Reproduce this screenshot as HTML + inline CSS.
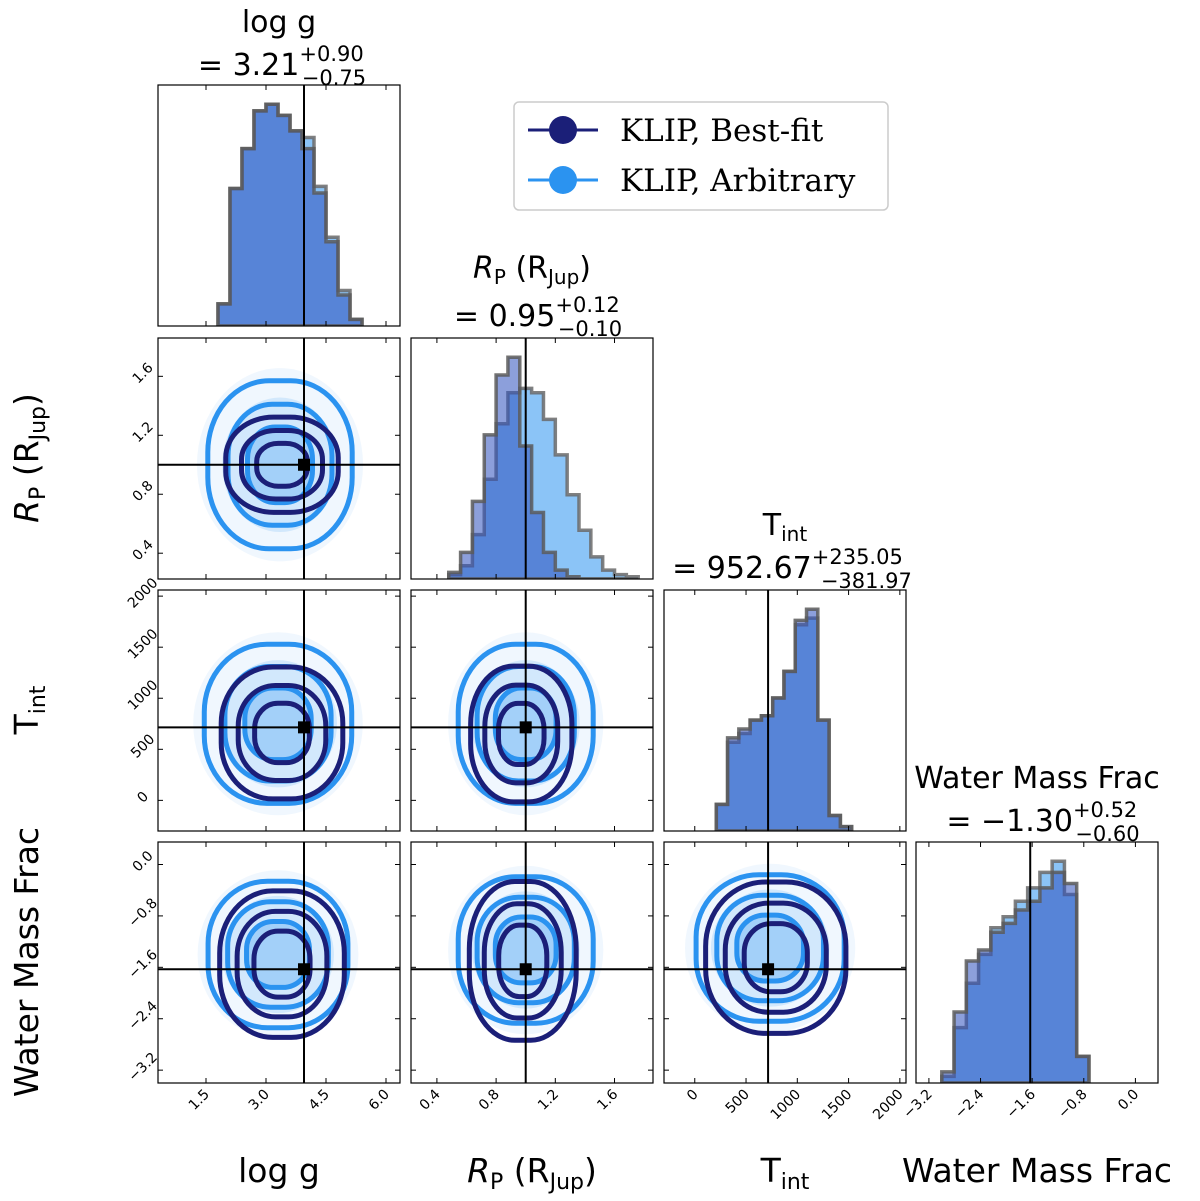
<!DOCTYPE html>
<html><head><meta charset="utf-8">
<style>
body{margin:0;background:#fff;}
svg{display:block;font-family:"DejaVu Sans","Liberation Sans",sans-serif;}
</style></head>
<body>
<svg id="c" width="1200" height="1201" viewBox="0 0 1200 1201" xmlns="http://www.w3.org/2000/svg"></svg>
<script>
// ---- data ----
const paramNames=["log g","Rp","Tint","Water Mass Frac"];
const ranges=[[0.3,6.35],[0.225,1.86],[-300,2060],[-3.4,0.35]];
const truths=[3.95,1.0,715,-1.63];
const ticks=[[1.5,3.0,4.5,6.0],[0.4,0.8,1.2,1.6],[0,500,1000,1500,2000],[-3.2,-2.4,-1.6,-0.8,0.0]];
const tickLabels=[["1.5","3.0","4.5","6.0"],["0.4","0.8","1.2","1.6"],["0","500","1000","1500","2000"],["\u22123.2","\u22122.4","\u22121.6","\u22120.8","0.0"]];
// histogram bins: start, width, heights (relative)
const histStart=[1.8,0.48,210,-3.0];
const histWidth=[0.3,0.08,110,0.19];
const histBest=[[0.1,0.62,0.8,0.97,1.0,0.95,0.88,0.8,0.6,0.38,0.14,0.03],
 [0.03,0.12,0.35,0.65,0.92,1.0,0.6,0.3,0.12,0.04,0.01,0.0,0.0,0.0,0.0,0.0],
 [0.12,0.42,0.46,0.5,0.52,0.6,0.72,0.95,1.0,0.5,0.07,0.02],
 [0.05,0.32,0.55,0.6,0.68,0.72,0.78,0.82,0.88,0.95,0.9,0.12]];
const histArb=[[0.1,0.62,0.8,0.97,1.0,0.95,0.88,0.85,0.63,0.4,0.16,0.03],
 [0.02,0.06,0.2,0.45,0.7,0.84,0.86,0.84,0.72,0.56,0.38,0.22,0.1,0.04,0.02,0.01],
 [0.12,0.4,0.44,0.5,0.52,0.6,0.72,0.93,0.96,0.5,0.07,0.02],
 [0.03,0.25,0.45,0.58,0.7,0.75,0.82,0.88,0.95,1.0,0.85,0.12]];
// contours: [i(x), j(y), cx, cy, sx, sy] for best-fit and arbitrary
const contBest=[[0,1,3.4,1.0,0.74,0.17],[0,2,3.4,660,0.8,340],[1,2,0.97,650,0.18,350],
 [0,3,3.4,-1.55,0.82,0.6],[1,3,0.98,-1.5,0.19,0.65],[2,3,790,-1.45,360,0.62]];
const contArb=[[0,1,3.35,1.0,0.95,0.3],[0,2,3.3,750,0.97,410],[1,2,1.0,750,0.24,410],
 [0,3,3.3,-1.4,0.92,0.6],[1,3,1.0,-1.33,0.24,0.6],[2,3,735,-1.3,380,0.6]];
const levels=[0.45,0.72,1.0];
// ---- layout ----
const colX=[158,411,664,916], rowY=[85,338,590,842], W=242, H=241;
const NS="http://www.w3.org/2000/svg", svg=document.getElementById('c');
function el(t,a,p){const e=document.createElementNS(NS,t);for(const k in a)e.setAttribute(k,a[k]);(p||svg).appendChild(e);return e;}
function sx(i,v){const r=ranges[i];return colX[i]+(v-r[0])/(r[1]-r[0])*W;}
function sy(j,v){const r=ranges[j];return rowY[j]+H-(v-r[0])/(r[1]-r[0])*H;}
const DARK="#1b1f78", LIGHT="#2b93f0";
for(let i=0;i<4;i++){
 for(let j=i;j<4;j++){
  const g=el('g',{});
  
  
  const x0=colX[i],y0=rowY[j];
  const cp='cp'+i+j;
  const cl=el('clipPath',{id:cp},g);el('rect',{x:x0,y:y0,width:W,height:H},cl);
  const inner=el('g',{'clip-path':'url(#'+cp+')'},g);
  if(i==j){
   const base=y0+H, hmax=H*0.92;
   [[histArb[i],'rgba(43,147,240,0.55)','#6a6a6a'],[histBest[i],'rgba(45,80,190,0.55)','#5a5a5a']].forEach(([hs,fill,st],s)=>{
    let d='M'+sx(i,histStart[i])+','+base;
    hs.forEach((h,k)=>{const xa=sx(i,histStart[i]+k*histWidth[i]),xb=sx(i,histStart[i]+(k+1)*histWidth[i]);const y=base-h*hmax;d+=' L'+xa+','+y+' L'+xb+','+y;});
    d+=' L'+sx(i,histStart[i]+hs.length*histWidth[i])+','+base+' Z';
    const p=el('path',{d:d,fill:fill,stroke:st,'stroke-width':3.5,'stroke-opacity':0.85},inner);
    
    
   });
   el('line',{x1:sx(i,truths[i]),x2:sx(i,truths[i]),y1:y0,y2:y0+H,stroke:'#000','stroke-width':2},inner);
  } else {
   [contArb,contBest].forEach((cs,s)=>{
    const c=cs.find(q=>q[0]==i&&q[1]==j);
    const cx=sx(i,c[2]),cy=sy(j,c[3]);
    const rx=1.9*Math.abs(sx(i,c[2]+c[4])-cx), ry=1.9*Math.abs(sy(j,c[3]+c[5])-cy);
    if(s==0){
     el('ellipse',{cx:cx,cy:cy,rx:rx*1.15,ry:ry*1.15,fill:'rgba(43,147,240,0.07)'},inner);
     el('ellipse',{cx:cx,cy:cy,rx:rx*0.8,ry:ry*0.8,fill:'rgba(43,147,240,0.15)'},inner);
     el('ellipse',{cx:cx,cy:cy,rx:rx*0.45,ry:ry*0.45,fill:'rgba(43,147,240,0.28)'},inner);
    }
    levels.forEach(l=>{
     const e=el('rect',{x:cx-rx*l,y:cy-ry*l,width:2*rx*l,height:2*ry*l,rx:rx*l*0.85,ry:ry*l*0.85,fill:'none',stroke:s?DARK:LIGHT,'stroke-width':5},inner);
     
     
    });
   });
   const tx=sx(i,truths[i]),ty=sy(j,truths[j]);
   el('line',{x1:tx,x2:tx,y1:y0,y2:y0+H,stroke:'#000','stroke-width':2},inner);
   el('line',{x1:x0,x2:x0+W,y1:ty,y2:ty,stroke:'#000','stroke-width':2},inner);
   el('rect',{x:tx-6,y:ty-6,width:12,height:12,fill:'#000'},inner);
  }
  el('rect',{x:x0,y:y0,width:W,height:H,fill:'none',stroke:'#000','stroke-width':1.2},g);
  ticks[i].forEach(t=>{const x=sx(i,t);if(x<x0||x>x0+W)return;el('line',{x1:x,x2:x,y1:y0+H,y2:y0+H-5,stroke:'#000'},g);el('line',{x1:x,x2:x,y1:y0,y2:y0+5,stroke:'#000'},g);});
  if(i!=j) ticks[j].forEach(t=>{const y=sy(j,t);if(y<y0||y>y0+H)return;el('line',{x1:x0,x2:x0+5,y1:y,y2:y,stroke:'#000'},g);el('line',{x1:x0+W,x2:x0+W-5,y1:y,y2:y,stroke:'#000'},g);});
  if(j==3){ticks[i].forEach((t,k)=>{const x=sx(i,t)+4;const tt=el('text',{x:x,y:y0+H+12,'font-size':14,'text-anchor':'end',transform:'rotate(-45 '+x+' '+(y0+H+12)+')'},g);tt.textContent=tickLabels[i][k];});}
  if(i==0&&j>0){ticks[j].forEach((t,k)=>{const y=sy(j,t);if(y<y0-2||y>y0+H+2)return;const tt=el('text',{x:x0-12,y:y,'font-size':14,'text-anchor':'middle',transform:'rotate(-45 '+(x0-12)+' '+y+')'},g);tt.textContent=tickLabels[j][k];});}
 }
}
function T(x,y,s,name,html,anchor){const t=el('text',{x:x,y:y,'font-size':s,'text-anchor':anchor||'middle'});t.innerHTML=html;return t;}
T(279,32,30,'title-logg','log g');
T(282,75,30,'value-logg','= 3.21<tspan font-size="21" dy="-14">+0.90</tspan><tspan font-size="21" dx="-62" dy="24">\u22120.75</tspan>');
T(532,278,30,'title-rp','<tspan font-style="italic">R</tspan><tspan font-size="20" dy="6">P</tspan><tspan dy="-6"> (R</tspan><tspan font-size="20" dy="6">Jup</tspan><tspan dy="-6">)</tspan>');
T(538,326,30,'value-rp','= 0.95<tspan font-size="21" dy="-14">+0.12</tspan><tspan font-size="21" dx="-62" dy="24">\u22120.10</tspan>');
T(785,535,30,'title-tint','T<tspan font-size="20" dy="6">int</tspan>');
T(792,578,30,'value-tint','= 952.67<tspan font-size="21" dy="-14">+235.05</tspan><tspan font-size="21" dx="-82" dy="24">\u2212381.97</tspan>');
T(1037,788,30,'title-water','Water Mass Frac');
T(1043,831,30,'value-water','= \u22121.30<tspan font-size="21" dy="-14">+0.52</tspan><tspan font-size="21" dx="-62" dy="24">\u22120.60</tspan>');
T(279,1182,33,'x-axis-title-logg','log g');
T(532,1182,33,'x-axis-title-rp','<tspan font-style="italic">R</tspan><tspan font-size="22" dy="7">P</tspan><tspan dy="-7"> (R</tspan><tspan font-size="22" dy="7">Jup</tspan><tspan dy="-7">)</tspan>');
T(785,1182,33,'x-axis-title-tint','T<tspan font-size="22" dy="7">int</tspan>');
T(1037,1182,33,'x-axis-title-water','Water Mass Frac');
function YL(y,name,html){const t=el('text',{x:0,y:0,'font-size':33,'text-anchor':'middle',transform:'translate(38 '+y+') rotate(-90)'});t.innerHTML=html;}
YL(458,'y-axis-title-rp','<tspan font-style="italic">R</tspan><tspan font-size="22" dy="7">P</tspan><tspan dy="-7"> (R</tspan><tspan font-size="22" dy="7">Jup</tspan><tspan dy="-7">)</tspan>');
YL(710,'y-axis-title-tint','T<tspan font-size="22" dy="7">int</tspan>');
YL(962,'y-axis-title-water','Water Mass Frac');
const lg=el('g',{});


el('rect',{x:514,y:102,width:374,height:108,rx:5,fill:'#fff',stroke:'#ccc','stroke-width':1.5},lg);
[[DARK,'KLIP, Best-fit',130],[LIGHT,'KLIP, Arbitrary',180]].forEach(([c,n,y],k)=>{
 const e=el('g',{},lg);
 
 
 el('line',{x1:528,x2:598,y1:y,y2:y,stroke:c,'stroke-width':3},e);
 el('circle',{cx:563,cy:y,r:14,fill:c},e);
 const t=el('text',{x:620,y:y+11,'font-size':31,'font-family':'DejaVu Serif,serif'},e);t.textContent=n;
});
</script>
</body></html>
